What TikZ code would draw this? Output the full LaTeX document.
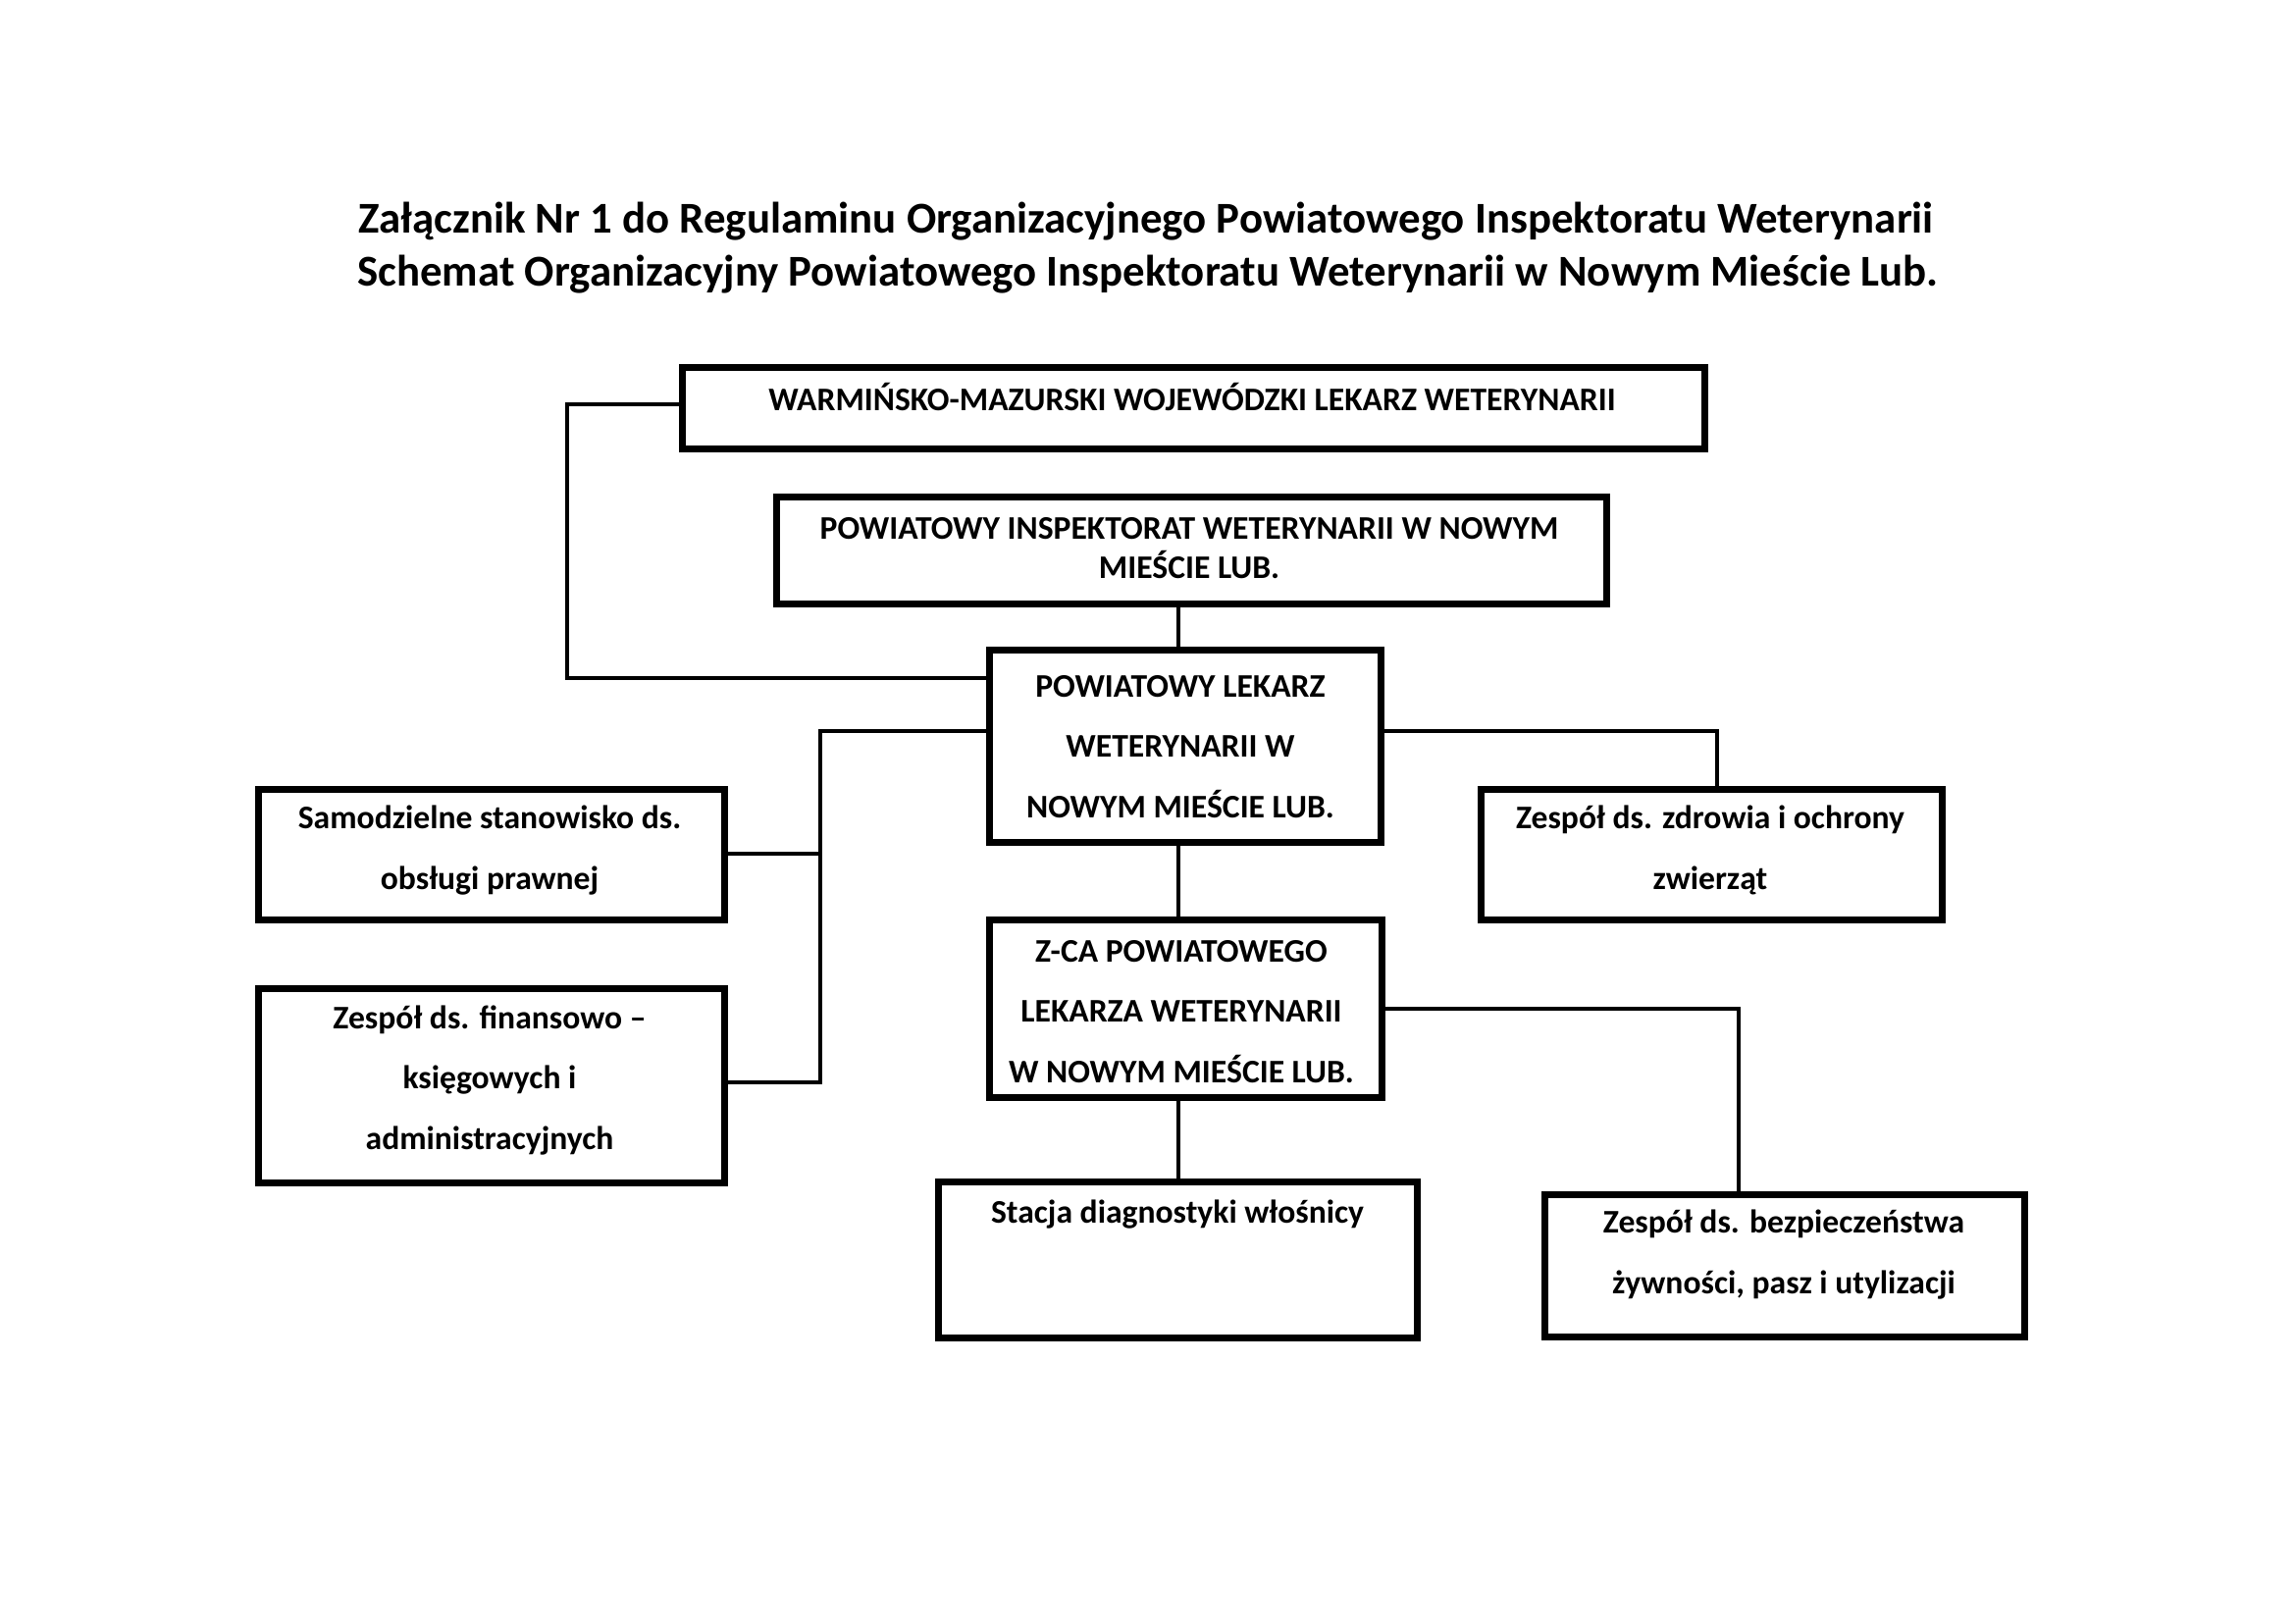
\documentclass[tikz,border=0pt]{standalone}
\usepackage{fontspec}
\setmainfont{Carlito}
\begin{document}
\begin{tikzpicture}[x=0.127mm,y=-0.127mm,
  box/.style={draw, line width=2.4pt, inner sep=0pt, anchor=north west},
  conn/.style={line width=1.3pt},
  txt/.style={font=\bfseries\fontsize{12.15}{22.1}\selectfont, align=center, inner sep=0pt, anchor=base},
  txttight/.style={font=\bfseries\fontsize{12.15}{14.4}\selectfont, align=center, inner sep=0pt, anchor=base},
  ttl/.style={font=\bfseries\fontsize{16.2}{19}\selectfont, inner sep=0pt, anchor=base}]
\path[use as bounding box, fill=white] (0,0) rectangle (2339,1654);
% title
\node[ttl] (t1) at (1168,237) {Załącznik Nr 1 do Regulaminu Organizacyjnego Powiatowego Inspektoratu Weterynarii};
\node[ttl] (t2) at (1170,291) {Schemat Organizacyjny Powiatowego Inspektoratu Weterynarii w Nowym Mieście Lub.};
% boxes: (left,top), width, height in px (line centres)
\newcommand{\orgbox}[5]{\node[box, minimum width={(#4)*0.127mm}, minimum height={(#5)*0.127mm}] (#1) at (#2,#3) {};}
\orgbox{b1}{692}{371}{1042}{83}
\orgbox{b2}{788}{503}{846}{109}
\orgbox{b3}{1005}{659}{399}{196}
\orgbox{b4}{260}{801}{475}{133}
\orgbox{b5}{260}{1004}{475}{198}
\orgbox{b6}{1506}{801}{470}{133}
\orgbox{b7}{1005}{934}{400}{181}
\orgbox{b8}{953}{1201}{488}{159}
\orgbox{b9}{1571}{1214}{489}{145}
% texts (anchor = baseline of last line)
\node[txt] (x1) at (1215,418) {WARMIŃSKO-MAZURSKI WOJEWÓDZKI LEKARZ WETERYNARII};
\node[txttight] (x2) at (1212,589) {POWIATOWY INSPEKTORAT WETERYNARII W NOWYM\\MIEŚCIE LUB.};
\node[txt] (x3) at (1203,833) {POWIATOWY LEKARZ\\WETERYNARII W\\NOWYM MIEŚCIE LUB.};
\node[txt] (x4) at (499,906) {Samodzielne stanowisko ds.\\obsługi prawnej};
\node[txt] (x5) at (499,1171) {Zespół ds. finansowo –\\księgowych i\\administracyjnych};
\node[txt] (x6) at (1743,906) {Zespół ds. zdrowia i ochrony\\zwierząt};
\node[txt] (x7) at (1204,1103) {Z-CA POWIATOWEGO\\LEKARZA WETERYNARII\\W NOWYM MIEŚCIE LUB.};
\node[txt] (x8) at (1200,1246) {Stacja diagnostyki włośnicy};
\node[txt] (x9) at (1818,1318) {Zespół ds. bezpieczeństwa\\żywności, pasz i utylizacji};
% junction coordinates
\coordinate (jA) at (578,412);
\coordinate (jB) at (578,691);
\coordinate (jC) at (836,745);
\coordinate (jD) at (836,870);
\coordinate (jE) at (836,1103);
\coordinate (jF) at (1750,745);
\coordinate (jG) at (1772,1028);
\coordinate (vx) at (1201,0);
% connectors
\draw[conn] (b1.west |- jA) -- (jA) -- (jB) -- (b3.west |- jB);
\draw[conn] (b2.south -| vx) -- (b3.north -| vx);
\draw[conn] (b3.west |- jC) -- (jC) -- (jE) -- (b5.east |- jE);
\draw[conn] (jD) -- (b4.east |- jD);
\draw[conn] (b3.east |- jF) -- (jF) -- (b6.north -| jF);
\draw[conn] (b3.south -| vx) -- (b7.north -| vx);
\draw[conn] (b7.east |- jG) -- (jG) -- (b9.north -| jG);
\draw[conn] (b7.south -| vx) -- (b8.north -| vx);
\end{tikzpicture}
\end{document}
